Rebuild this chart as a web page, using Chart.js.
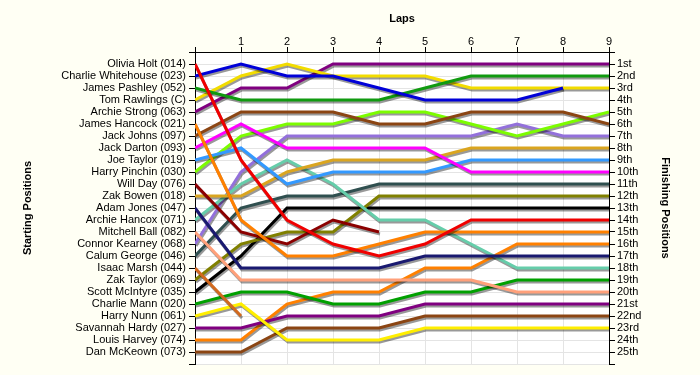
<!DOCTYPE html>
<html>
<head>
<meta charset="utf-8">
<script src="https://cdn.jsdelivr.net/npm/chart.js@4"></script>
<style>
  html, body { margin: 0; padding: 0; background: #fffff4; }
  #wrap { width: 700px; height: 375px; }
</style>
</head>
<body>
<div id="wrap"><canvas id="grafico" width="700" height="375"></canvas></div>
<script>
// pilotos na ordem de largada
const drivers = [
    "Olivia Holt (014)", "Charlie Whitehouse (023)", "James Pashley (052)", "Tom Rawlings (C)",
    "Archie Strong (063)", "James Hancock (021)", "Jack Johns (097)", "Jack Darton (093)",
    "Joe Taylor (019)", "Harry Pinchin (030)", "Will Day (076)", "Zak Bowen (018)",
    "Adam Jones (047)", "Archie Hancox (071)", "Mitchell Ball (082)", "Connor Kearney (068)",
    "Calum George (046)", "Isaac Marsh (044)", "Zak Taylor (069)", "Scott McIntyre (035)",
    "Charlie Mann (020)", "Harry Nunn (061)", "Savannah Hardy (027)", "Louis Harvey (074)",
    "Dan McKeown (073)"
];

const laps = [0, 1, 2, 3, 4, 5, 6, 7, 8, 9];

const finishLabels = ["1st", "2nd", "3rd", "4th", "5th", "6th", "7th", "8th", "9th", "10th",
    "11th", "12th", "13th", "14th", "15th", "16th", "17th", "18th", "19th", "20th",
    "21st", "22nd", "23rd", "24th", "25th"];

// posição em cada volta (volta 0 = largada)
const posOlivia    = [1, 9, 14, 16, 17, 16, 14, 14, 14, 14];
const posCharlieW  = [2, 1, 2, 2, 3, 4, 4, 4, 3];
const posPashley   = [3, 4, 4, 4, 4, 3, 2, 2, 2, 2];
const posRawlings  = [4, 2, 1, 2, 2, 2, 3, 3, 3, 3];
const posStrong    = [5, 3, 3, 1, 1, 1, 1, 1, 1, 1];
const posHancock   = [6, 14, 17, 17, 16, 15, 15, 15, 15, 15];
const posJohns     = [7, 5, 5, 5, 6, 6, 5, 5, 5, 6];
const posDarton    = [8, 6, 8, 8, 8, 8, 10, 10, 10, 10];
const posJoeTaylor = [9, 8, 11, 10, 10, 10, 9, 9, 9, 9];
const posPinchin   = [10, 7, 6, 6, 5, 5, 6, 7, 6, 5];
const posWillDay   = [11, 15, 16, 14, 15];
const posBowen     = [12, 12, 10, 9, 9, 9, 8, 8, 8, 8];
const posJones     = [13, 18, 18, 18, 18, 17, 17, 17, 17, 17];
const posHancox    = [14, 11, 9, 11, 14, 14, 16, 18, 18, 18];
const posBall      = [15, 19, 19, 19, 19, 19, 19, 20, 20, 20];
const posKearney   = [16, 10, 7, 7, 7, 7, 7, 6, 7, 7];
const posGeorge    = [17, 13, 12, 12, 11, 11, 11, 11, 11, 11];
const posMarsh     = [18, 22];
const posZakTaylor = [19, 16, 15, 15, 12, 12, 12, 12, 12, 12];
const posMcIntyre  = [20, 17, 13, 13, 13, 13, 13, 13, 13, 13];
const posMann      = [21, 20, 20, 21, 21, 20, 20, 19, 19, 19];
const posNunn      = [22, 21, 24, 24, 24, 23, 23, 23, 23, 23];
const posHardy     = [23, 23, 22, 22, 22, 21, 21, 21, 21, 21];
const posHarvey    = [24, 24, 21, 20, 20, 18, 18, 16, 16, 16];
const posMcKeown   = [25, 25, 23, 23, 23, 22, 22, 22, 22, 22];

const allPositions = [posOlivia, posCharlieW, posPashley, posRawlings, posStrong, posHancock,
    posJohns, posDarton, posJoeTaylor, posPinchin, posWillDay, posBowen, posJones, posHancox,
    posBall, posKearney, posGeorge, posMarsh, posZakTaylor, posMcIntyre, posMann, posNunn,
    posHardy, posHarvey, posMcKeown];

const colors = ["#f00000", "#0000d8", "#109a10", "#f2dc00", "#800080", "#ff8000",
    "#8b4513", "#ff00ff", "#3399ff", "#7cfc00", "#8b0000", "#daa520", "#191970",
    "#66cdaa", "#ffa07a", "#9370db", "#2f4f4f", "#d2691e", "#808000", "#000000",
    "#00a000", "#ffee00", "#800080", "#ff8000", "#8b4513"];

const datasets = drivers.map((nome, i) => ({
    label: nome,
    data: allPositions[i].map((p, volta) => ({ x: laps[volta], y: p })),
    borderColor: colors[i],
    borderWidth: 3,
    pointRadius: 0,
    tension: 0,
    fill: false
}));

const fonte = { family: "'Liberation Sans', Arial, sans-serif", size: 11 };
const fonteBold = { family: "'Liberation Sans', Arial, sans-serif", size: 11, weight: 'bold' };

// fundo branco da área do gráfico + sombra das linhas
const plugins = [{
    id: 'fundo',
    beforeDraw(chart) {
        const { ctx, chartArea: a } = chart;
        ctx.save();
        ctx.fillStyle = '#fffff4';
        ctx.fillRect(0, 0, chart.width, chart.height);
        ctx.fillStyle = '#ffffff';
        ctx.fillRect(a.left, a.top, a.right - a.left, a.bottom - a.top);
        ctx.restore();
    },
    beforeDatasetDraw(chart) {
        const ctx = chart.ctx;
        ctx.save();
        ctx.shadowColor = 'rgba(0,0,0,0.4)';
        ctx.shadowOffsetX = 1;
        ctx.shadowOffsetY = 2;
        ctx.shadowBlur = 0;
    },
    afterDatasetDraw(chart) {
        chart.ctx.restore();
    }
}];

const posTicks = scale => {
    scale.ticks = [];
    for (let v = 0; v <= 26; v++) scale.ticks.push({ value: v });
};

new Chart(document.getElementById('grafico').getContext('2d'), {
    type: 'line',
    data: { datasets },
    plugins,
    options: {
        responsive: false,
        animation: false,
        layout: { padding: { top: 0, bottom: 11, left: 0, right: 0 } },
        plugins: { legend: { display: false }, tooltip: { enabled: false } },
        scales: {
            x: {
                type: 'linear',
                position: 'top',
                min: 0, max: 9,
                afterBuildTicks: s => { s.ticks = laps.map(v => ({ value: v })); },
                afterFit: s => { s.height = 52; },
                ticks: { font: fonte, color: '#000', padding: -2, maxRotation: 0,
                    callback: v => v === 0 ? '' : String(v) },
                grid: { color: '#e4e4e4', tickColor: '#000', tickLength: 5, lineWidth: 1 },
                border: { color: '#000', width: 1 },
                title: { display: true, text: 'Laps', font: fonteBold, color: '#000', padding: { top: 12, bottom: 0 } }
            },
            y: {
                type: 'linear',
                position: 'left',
                reverse: true,
                min: 0, max: 26,
                afterBuildTicks: posTicks,
                afterFit: s => { s.width = 195; },
                ticks: { font: fonte, color: '#000', padding: 3, autoSkip: false,
                    callback: v => drivers[v - 1] || '' },
                grid: { color: '#e4e4e4', tickColor: '#000', tickLength: 6 },
                border: { color: '#000', width: 1 },
                title: { display: true, text: 'Starting Positions', font: fonteBold, color: '#000', padding: { top: 21, bottom: 0 } }
            },
            y2: {
                type: 'linear',
                position: 'right',
                reverse: true,
                min: 0, max: 26,
                afterBuildTicks: posTicks,
                afterFit: s => { s.width = 91; },
                ticks: { font: fonte, color: '#000', padding: 2, autoSkip: false,
                    callback: v => finishLabels[v - 1] || '' },
                grid: { drawOnChartArea: false, tickColor: '#000', tickLength: 6 },
                border: { color: '#000', width: 1 },
                title: { display: true, text: 'Finishing Positions', font: fonteBold, color: '#000', padding: { top: 28, bottom: 0 } }
            }
        }
    }
});
</script>
</body>
</html>
